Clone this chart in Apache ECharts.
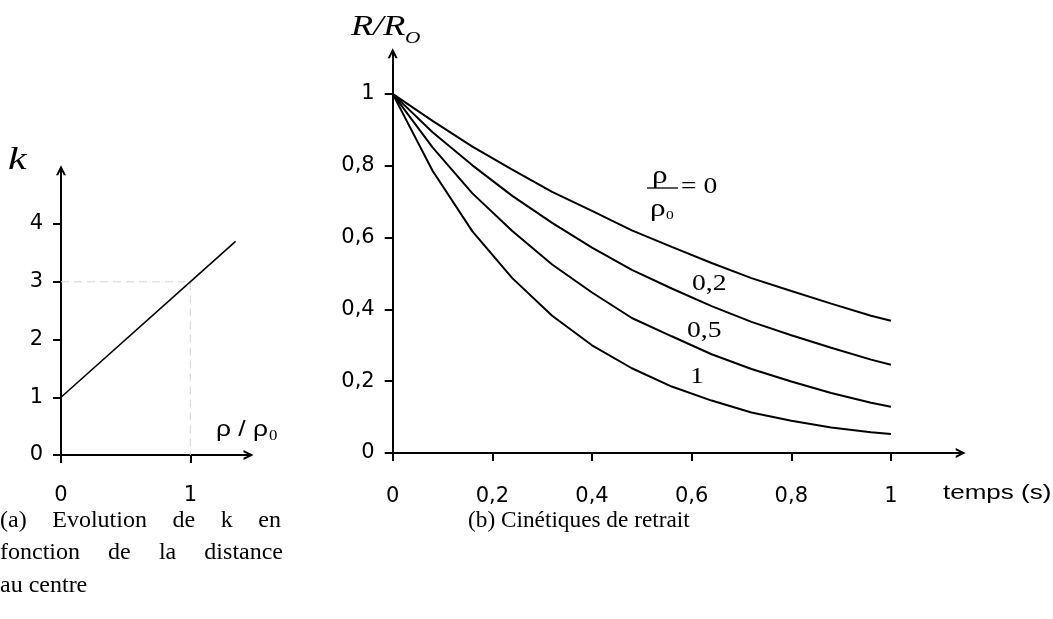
<!DOCTYPE html>
<html>
<head>
<meta charset="utf-8">
<script src="https://cdn.jsdelivr.net/npm/echarts@6/dist/echarts.min.js"></script>
<style>
  html, body { margin: 0; padding: 0; background: #fff; }
  #chart { width: 1053px; height: 619px; }
</style>
</head>
<body>
<div id="chart"></div>
<script>
// (a) k as a function of the distance to the centre
const rhoValues = [0, 1.35];
const kValues = [1, 3.7];
const guideRho = [0, 1, 1];
const guideK = [3, 3, 0];
const kTicksX = [0, 1];
const kTicksY = [0, 1, 2, 3, 4];

// (b) shrinkage kinetics R/Ro versus time for several rho/rho0
const timeS = [0, 0.08, 0.16, 0.24, 0.32, 0.40, 0.48, 0.56, 0.64, 0.72, 0.80, 0.88, 0.96, 1.0];
const r0 = [1, 0.925, 0.853, 0.789, 0.727, 0.674, 0.620, 0.574, 0.529, 0.487, 0.451, 0.416, 0.382, 0.368];
const r02 = [1, 0.893, 0.801, 0.716, 0.641, 0.572, 0.510, 0.458, 0.409, 0.365, 0.328, 0.293, 0.260, 0.246];
const r05 = [1, 0.851, 0.723, 0.618, 0.525, 0.447, 0.376, 0.325, 0.275, 0.234, 0.199, 0.167, 0.140, 0.129];
const r1 = [1, 0.786, 0.617, 0.487, 0.382, 0.300, 0.236, 0.185, 0.146, 0.113, 0.090, 0.071, 0.058, 0.053];
const tTicks = [0, 0.2, 0.4, 0.6, 0.8, 1];
const rTicks = [0, 0.2, 0.4, 0.6, 0.8, 1];

const zip = (xs, ys) => xs.map((x, i) => [x, ys[i]]);
const comma = v => String(v).replace('.', ',');

// open arrow head for the axis ends
const arrowHead = 'path://M0,10 L5,0 L10,10 L7.8,10 L5,4.2 L2.2,10 Z';

function axisBase(gridIndex, max, ticks, margin) {
  return {
    type: 'value', gridIndex: gridIndex, min: 0, max: max,
    splitLine: { show: false },
    axisLine: {
      show: true, onZero: false,
      lineStyle: { color: '#000', width: 2 },
      symbol: ['none', arrowHead], symbolSize: [15, 10]
    },
    axisTick: { show: true, length: 8, customValues: ticks, lineStyle: { color: '#000', width: 2 } },
    axisLabel: {
      customValues: ticks, margin: margin, formatter: comma,
      color: '#000', fontSize: 21, fontFamily: 'DejaVu Sans'
    }
  };
}

const curveLine = { color: '#000', width: 2 };
function curve(values) {
  return {
    type: 'line', xAxisIndex: 1, yAxisIndex: 1, data: zip(timeS, values),
    symbol: 'none', lineStyle: curveLine, silent: true
  };
}

// text helpers
function txt(x, y, text, font, sx, align) {
  return {
    type: 'text', x: x, y: y, scaleX: sx || 1, silent: true,
    style: { text: text, font: font, fill: '#000', align: align || 'left', verticalAlign: 'middle' }
  };
}

const capFont = '24px "Liberation Serif"';
const measureCtx = document.createElement('canvas').getContext('2d');
measureCtx.font = capFont;
function justified(words, x0, width, y) {
  const w = words.map(s => measureCtx.measureText(s).width);
  const gap = (width - w.reduce((a, b) => a + b, 0)) / (words.length - 1);
  let x = x0;
  return words.map((s, i) => { const t = txt(x, y, s, capFont); x += w[i] + gap; return t; });
}

const serif = '"Liberation Serif"';
const graphics = [
  // axis titles
  txt(8, 161, 'k', 'italic 31px ' + serif, 1.35),
  txt(351, 27, 'R/R', 'italic 29px ' + serif, 1.25),
  txt(405, 39, 'O', 'italic 17px ' + serif, 1.25),
  txt(216, 430, 'ρ / ρ', '22px "Liberation Sans"', 1.2),
  txt(269, 436, '0', '14px ' + serif, 1.2),
  txt(943, 493, 'temps (s)', '20px "Liberation Sans"', 1.3),
  // curve labels
  txt(652, 176, 'ρ', '26px ' + serif, 1.2),
  { type: 'line', silent: true, shape: { x1: 647, y1: 188, x2: 678, y2: 188 }, style: { stroke: '#000', lineWidth: 1.3 } },
  txt(650, 209, 'ρ', '26px ' + serif, 1.2),
  txt(666, 216, '0', '13px ' + serif, 1.2),
  txt(681, 187, '= 0', '23px ' + serif, 1.2),
  txt(692, 284, '0,2', '23px ' + serif, 1.2),
  txt(687, 331, '0,5', '23px ' + serif, 1.2),
  txt(690, 377, '1', '23px ' + serif, 1.2),
  // captions
  ...justified(['(a)', 'Evolution', 'de', 'k', 'en'], 0, 281, 521),
  ...justified(['fonction', 'de', 'la', 'distance'], 0, 283, 553),
  txt(0, 586, 'au centre', capFont),
  txt(468, 521, '(b) Cinétiques de retrait', capFont, 0.97)
];

const chart = echarts.init(document.getElementById('chart'), null, { renderer: 'canvas' });
chart.setOption({
  animation: false,
  backgroundColor: '#fff',
  grid: [
    { left: 61, top: 170.3, width: 187.5, height: 284.7 },
    { left: 392.7, top: 53.3, width: 568, height: 399.7 }
  ],
  xAxis: [axisBase(0, 1.45, kTicksX, 30), axisBase(1, 1.14, tTicks, 33)],
  yAxis: [axisBase(0, 4.93, kTicksY, 18), axisBase(1, 1.113, rTicks, 18)],
  series: [
    {
      type: 'line', xAxisIndex: 0, yAxisIndex: 0, data: zip(guideRho, guideK),
      symbol: 'none', silent: true, z: 1,
      lineStyle: { color: '#d4d4d4', width: 1, type: [8, 5] }
    },
    {
      type: 'line', xAxisIndex: 0, yAxisIndex: 0, data: zip(rhoValues, kValues),
      symbol: 'none', silent: true, lineStyle: { color: '#000', width: 1.6 }
    },
    curve(r0), curve(r02), curve(r05), curve(r1)
  ],
  graphic: graphics
});
</script>
</body>
</html>
